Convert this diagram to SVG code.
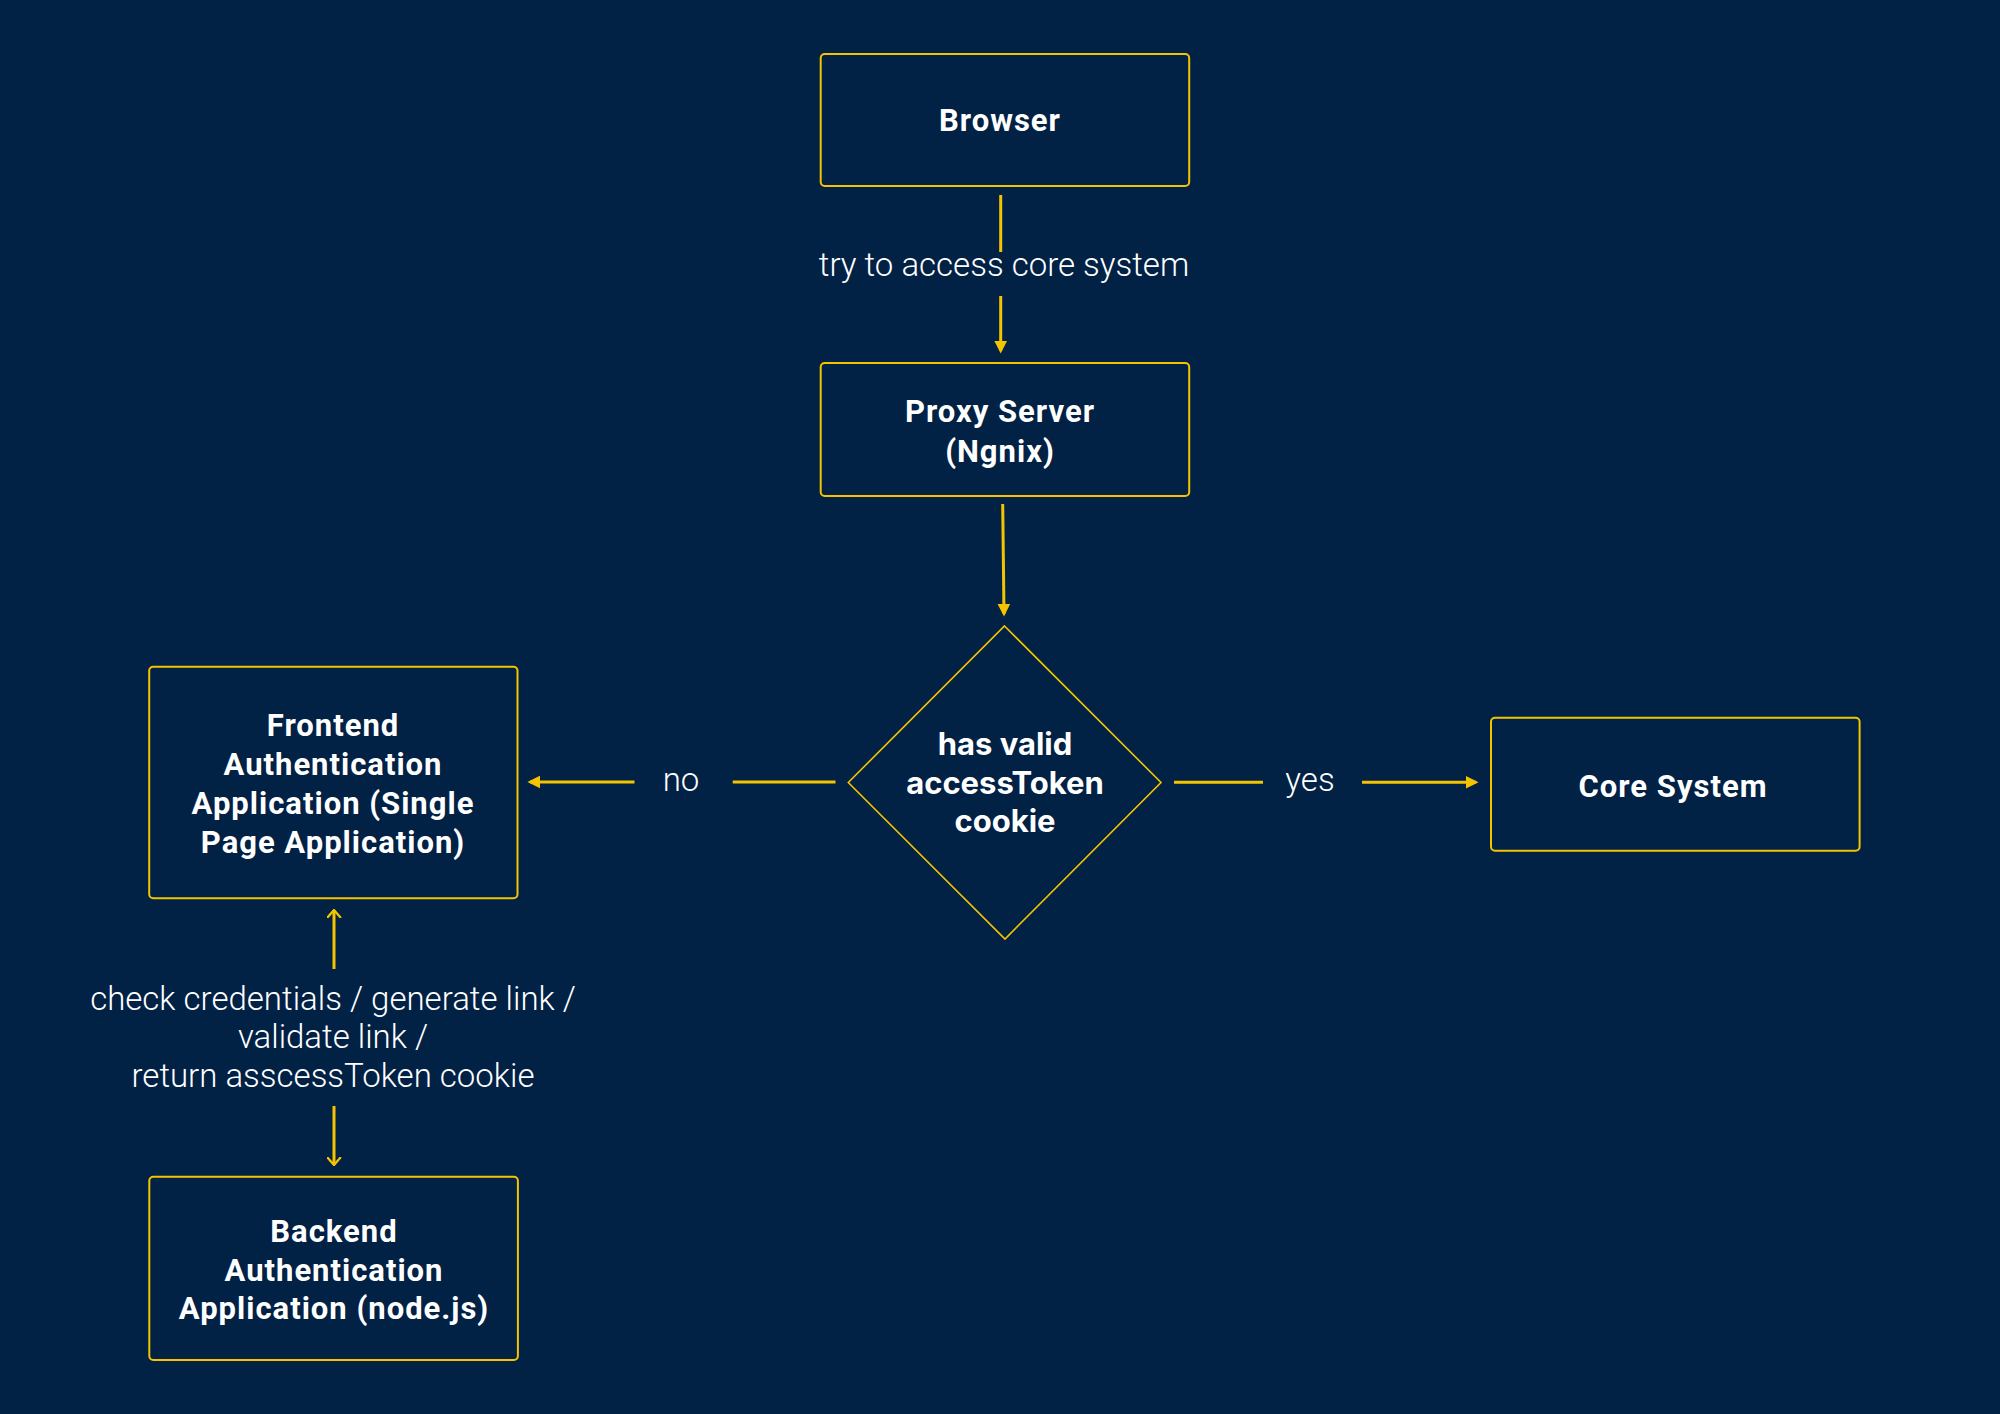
<svg xmlns="http://www.w3.org/2000/svg" width="2000" height="1414" viewBox="0 0 2000 1414">
<defs>
<style>
.node{fill:#012145;stroke:#F5C400;stroke-width:2}
.dia{fill:#012145;stroke:#F5C400;stroke-width:1.6}
.t{font-family:Roboto,"Liberation Sans",sans-serif;font-weight:700;font-size:31px;letter-spacing:1px;fill:#FFFFFF;text-anchor:middle}
.td{font-family:Inter,Roboto,"Liberation Sans",sans-serif;font-weight:700;font-size:31px;fill:#FFFFFF;text-anchor:middle}
.lbl{font-family:Roboto,"Liberation Sans",sans-serif;font-weight:300;font-size:33px;fill:#FFFFFF;text-anchor:middle}
.c{stroke:#F5C400;stroke-width:3;fill:none}
</style>
<marker id="tri" viewBox="0 0 10 10" refX="8" refY="5" markerWidth="13" markerHeight="13" markerUnits="userSpaceOnUse" orient="auto">
<path d="M0,0 L10,5 L0,10 z" fill="#F5C400"/>
</marker>
<marker id="chev" viewBox="0 0 10 16" refX="9" refY="8" markerWidth="9" markerHeight="15" markerUnits="userSpaceOnUse" orient="auto">
<path d="M1,1 L9,8 L1,15" fill="none" stroke="#F5C400" stroke-width="2.5" stroke-linecap="round" stroke-linejoin="round"/>
</marker>
</defs>
<rect x="0" y="0" width="2000" height="1414" fill="#012145"/>

<g id="connectors">
<line class="c" x1="1000.7" y1="195" x2="1000.7" y2="252"/>
<line class="c" x1="1000.7" y1="296" x2="1000.7" y2="351" marker-end="url(#tri)"/>
<text class="lbl" x="1004" y="276">try to access core system</text>

<line class="c" x1="1002.7" y1="504" x2="1004" y2="614" marker-end="url(#tri)"/>

<line class="c" x1="835.5" y1="782" x2="732.7" y2="782"/>
<line class="c" x1="634.5" y1="782" x2="530" y2="782" marker-end="url(#tri)"/>
<text class="lbl" x="681" y="791">no</text>

<line class="c" x1="1174" y1="782.3" x2="1263" y2="782.3"/>
<line class="c" x1="1362" y1="782.3" x2="1476" y2="782.3" marker-end="url(#tri)"/>
<text class="lbl" x="1310" y="791">yes</text>

<line class="c" x1="334" y1="969" x2="334" y2="910" marker-end="url(#chev)"/>
<line class="c" x1="334" y1="1106" x2="334" y2="1165" marker-end="url(#chev)"/>
<text class="lbl" x="333" y="1010">check credentials / generate link /</text>
<text class="lbl" x="333" y="1048">validate link /</text>
<text class="lbl" x="333" y="1087">return asscessToken cookie</text>
</g>

<g id="browser">
<rect class="node" x="820.7" y="54" width="368.5" height="132" rx="4"/>
<text class="t" x="1000" y="131">Browser</text>
</g>

<g id="proxy">
<rect class="node" x="820.7" y="363" width="368.5" height="133" rx="4"/>
<text class="t" x="1000" y="422">Proxy Server</text>
<text class="t" x="1000" y="462">(Ngnix)</text>
</g>

<g id="decision">
<polygon class="dia" points="1004.5,626 1161,782.5 1005,939 848.3,782.5"/>
<text class="td" x="1005" y="755">has valid</text>
<text class="td" x="1005" y="794">accessToken</text>
<text class="td" x="1005" y="832">cookie</text>
</g>

<g id="frontend">
<rect class="node" x="149.2" y="666.7" width="368.3" height="231.6" rx="4"/>
<text class="t" x="333" y="736">Frontend</text>
<text class="t" x="333" y="775">Authentication</text>
<text class="t" x="333" y="814">Application (Single</text>
<text class="t" x="333" y="853">Page Application)</text>
</g>

<g id="core">
<rect class="node" x="1491" y="717.7" width="368.6" height="133" rx="4"/>
<text class="t" x="1673" y="797">Core System</text>
</g>

<g id="backend">
<rect class="node" x="149.3" y="1176.7" width="368.6" height="183.3" rx="4"/>
<text class="t" x="334" y="1242">Backend</text>
<text class="t" x="334" y="1281">Authentication</text>
<text class="t" x="334" y="1319">Application (node.js)</text>
</g>
</svg>
